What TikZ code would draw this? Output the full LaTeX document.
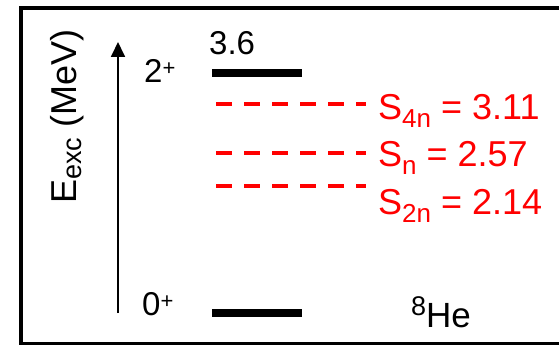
\documentclass[tikz,border=0pt]{standalone}
\usepackage{fontspec}
\setmainfont{Liberation Sans}
\usetikzlibrary{arrows.meta}
\definecolor{sepred}{HTML}{FF0000}
\definecolor{lvlblack}{HTML}{000000}
\newcommand{\lvlsub}[1]{\raisebox{-8pt}{\fontsize{26}{26}\selectfont #1}}
\newcommand{\lvlsup}[1]{\raisebox{7pt}{\fontsize{22}{22}\selectfont #1}}
\newcommand{\isosup}[1]{\raisebox{12pt}{\fontsize{27}{27}\selectfont #1}}
\newcommand{\axsub}[1]{\raisebox{-5pt}{\fontsize{27}{27}\selectfont #1}}
\tikzset{
  frm/.style={draw=black, line width=4pt},
  lvl/.style={draw=lvlblack, line width=8pt},
  thr/.style={draw=sepred, line width=4pt, dash pattern=on 16pt off 12pt},
  eaxis/.style={-{Triangle[length=15pt,width=14pt]}, draw=black, line width=1.8pt},
  spin/.style={font=\fontsize{33}{38}\selectfont, anchor=base west, inner sep=0pt},
  enlbl/.style={font=\fontsize{33}{38}\selectfont, anchor=base west, inner sep=0pt},
  thrlbl/.style={font=\fontsize{36}{40}\selectfont, text=sepred, anchor=base west, inner sep=0pt},
  nuclbl/.style={font=\fontsize{35}{40}\selectfont, anchor=base west, inner sep=0pt},
  axlbl/.style={font=\fontsize{36}{40}\selectfont, rotate=90, anchor=base west, inner sep=0pt},
}
\begin{document}
\begin{tikzpicture}[x=1pt,y=-1pt]
  \clip (0,0) rectangle (559,345);
  \draw[frm] (20.5,8.5) rectangle (620,344);
  % energy axis
  \node[axlbl] (eaxlbl) at (76,204) {E\axsub{exc} (MeV)};
  \coordinate (ebot) at (118,313);
  \coordinate (etop) at (118,42);
  \draw[eaxis] (ebot) -- (etop);
  % levels of 8He
  \coordinate (ex2l) at (212,73);
  \coordinate (ex2r) at (302,73);
  \coordinate (gsl) at (212,313);
  \coordinate (gsr) at (302,313);
  \draw[lvl] (ex2l) -- (ex2r);
  \draw[lvl] (gsl) -- (gsr);
  \node[spin] (ex2spin) at (144,82) {2\lvlsup{+}};
  \node[enlbl] (ex2en) at (209,55) {3.6};
  \node[spin] (gsspin) at (142,315) {0\lvlsup{+}};
  \node[nuclbl] (nuc) at (411,327) {\isosup{8}He};
  % thresholds
  \coordinate (s4nl) at (216,104);
  \coordinate (s4nr) at (366,104);
  \coordinate (s1nl) at (216,153);
  \coordinate (s1nr) at (366,153);
  \coordinate (s2nl) at (216,186);
  \coordinate (s2nr) at (366,186);
  \draw[thr] (s4nl) -- (s4nr);
  \draw[thr] (s1nl) -- (s1nr);
  \draw[thr] (s2nl) -- (s2nr);
  \node[thrlbl] (s4nlbl) at (378,119) {S\lvlsub{4n} = 3.11};
  \node[thrlbl] (s1nlbl) at (378,166) {S\lvlsub{n} = 2.57};
  \node[thrlbl] (s2nlbl) at (378,214) {S\lvlsub{2n} = 2.14};
\end{tikzpicture}
\end{document}
